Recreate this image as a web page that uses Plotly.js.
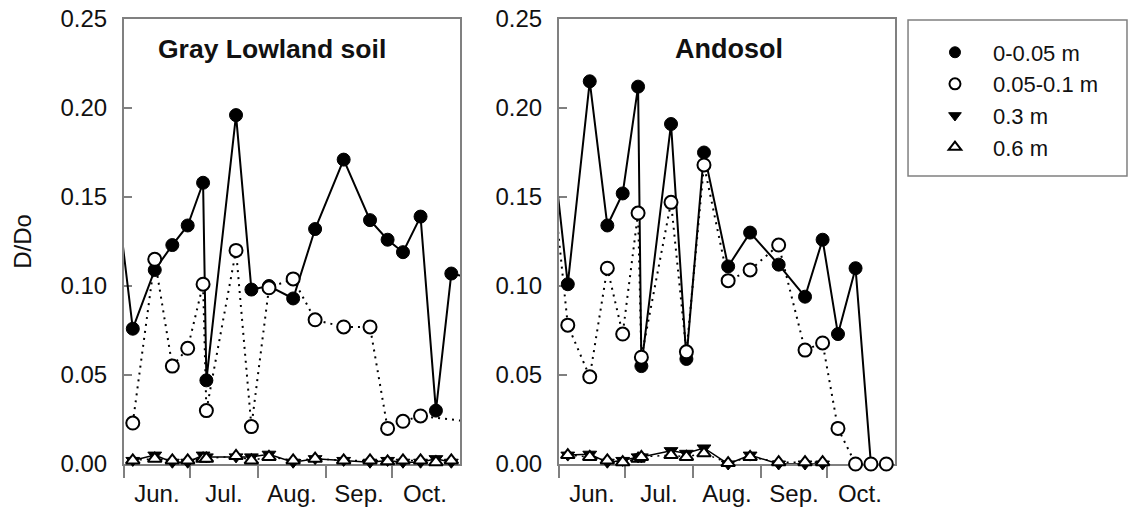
<!DOCTYPE html>
<html><head><meta charset="utf-8">
<script src="https://cdn.plot.ly/plotly-3.0.1.min.js"></script>
<style>html,body{margin:0;padding:0;background:#fff}</style>
</head><body><div id="chart" style="width:1128px;height:516px"></div>
<script>
// Sampling dates (shared by both soils); first/last entries lie just outside the axis range
const dates = ['2000-05-30','2000-06-05','2000-06-15','2000-06-23','2000-06-30','2000-07-07','2000-07-08 12:00',
  '2000-07-22','2000-07-29','2000-08-06','2000-08-17','2000-08-27','2000-09-09','2000-09-21','2000-09-29',
  '2000-10-06','2000-10-14','2000-10-21','2000-10-28','2000-11-04'];
const xRange = ['2000-06-01','2000-10-31 23:00'];
const seriesNames = ['0-0.05 m','0.05-0.1 m','0.3 m','0.6 m'];
const yTicks = [0, 0.05, 0.10, 0.15, 0.20, 0.25];

// Gray Lowland soil
const gl_0_005 = [0.138,0.076,0.109,0.123,0.134,0.158,0.047,0.196,0.098,0.100,0.093,0.132,0.171,0.137,0.126,0.119,0.139,0.030,0.107,0.105];
const gl_005_01 = [null,0.023,0.115,0.055,0.065,0.101,0.030,0.120,0.021,0.099,0.104,0.081,0.077,0.077,0.020,0.024,0.027,null,null,0.024];
const gl_03 = [null,0.002,0.005,0.001,0.001,0.005,0.004,0.004,0.004,0.0055,0.001,0.003,0.002,0.001,0.002,0.001,0.001,0.003,0.001,null];
const gl_06 = [null,0.002,0.003,0.002,0.002,0.003,0.003,0.0045,0.002,0.004,0.002,0.003,0.002,0.002,0.0015,0.002,0.002,0.001,0.002,null];

// Andosol
const an_0_005 = [0.168,0.101,0.215,0.134,0.152,0.212,0.055,0.191,0.059,0.175,0.111,0.130,0.112,0.094,0.126,0.073,0.110,0.000,null,null];
const an_005_01 = [0.150,0.078,0.049,0.110,0.073,0.141,0.060,0.147,0.063,0.168,0.103,0.109,0.123,0.064,0.068,0.020,0.000,0.000,0.000,null];
const an_03 = [null,0.005,0.0055,0.001,0.002,0.004,0.004,0.0075,0.006,0.009,0.000,0.005,0.000,0.000,0.000,null,null,null,null,null];
const an_06 = [null,0.005,0.004,0.002,0.001,0.003,0.004,0.005,0.004,0.006,0.0005,0.004,0.001,0.001,0.001,null,null,null,null,null];

const FONT = 'Liberation Sans, Arial, sans-serif';
const AX = '#808080';

function inRange(d){ return d >= xRange[0] && d <= xRange[1]; }
function sizes(s){ return dates.map(d => inRange(d) ? s : 0); }

const styles = [
  {line:{color:'#000',width:2}, marker:{symbol:'circle',color:'#000',size:13,opacity:1,line:{color:'#000',width:1}}},
  {line:{color:'#000',width:2,dash:'2px,5px'}, marker:{symbol:'circle',color:'#fff',size:13,opacity:1,line:{color:'#000',width:2}}},
  {line:{color:'#000',width:1.5}, marker:{symbol:'triangle-down',color:'#000',size:12,opacity:1,line:{color:'#000',width:1}}},
  {line:{color:'#000',width:1.5,dash:'2px,5px'}, marker:{symbol:'triangle-up',color:'#fff',size:12,opacity:1,line:{color:'#000',width:2}}}
];

function makeTraces(seriesList, xa, ya){
  return seriesList.map((vals, i) => ({
    x: dates, y: vals, xaxis: xa, yaxis: ya, type: 'scatter', mode: 'lines+markers',
    connectgaps: true, cliponaxis: false, showlegend: false, hoverinfo: 'skip',
    line: styles[i].line,
    marker: Object.assign({}, styles[i].marker, {size: sizes(styles[i].marker.size)})
  }));
}

const traces = [].concat(
  makeTraces([gl_0_005, gl_005_01, gl_03, gl_06], 'x', 'y'),
  makeTraces([an_0_005, an_005_01, an_03, an_06], 'x2', 'y2'),
  seriesNames.map((n, i) => ({
    x: [null], y: [null], xaxis: 'x', yaxis: 'y', type: 'scatter', mode: 'markers', name: n,
    marker: Object.assign({}, styles[i].marker, {size: 11})
  }))
);

function xaxisDef(domain, anchor){
  return {
    domain: domain, anchor: anchor, type: 'date', range: xRange,
    tick0: '2000-06-01', dtick: 'M1', tickformat: '%b.', ticklabelmode: 'period',
    ticks: 'outside', ticklen: 12, tickwidth: 2, tickcolor: AX, ticklabelstandoff: -5,
    showline: true, linecolor: AX, linewidth: 2, mirror: true,
    showgrid: false, zeroline: false, layer: 'below traces',
    tickfont: {family: FONT, size: 24, color: '#111'}
  };
}
function yaxisDef(anchor, withTitle){
  const a = {
    anchor: anchor, range: [0, 0.25], tickvals: yTicks, tickformat: '.2f',
    ticks: 'inside', ticklen: 8, tickwidth: 2, tickcolor: AX, ticklabelstandoff: 10,
    showline: true, linecolor: AX, linewidth: 2, mirror: true,
    showgrid: false, zeroline: false, layer: 'below traces',
    tickfont: {family: FONT, size: 24, color: '#111'}
  };
  if (withTitle) a.title = {text: 'D/Do', font: {family: FONT, size: 24, color: '#111'}, standoff: 22};
  return a;
}

const layout = {
  width: 1128, height: 516,
  margin: {l: 124, r: 233, t: 19, b: 52},
  paper_bgcolor: '#fff', plot_bgcolor: '#fff',
  font: {family: FONT, size: 24, color: '#111'},
  xaxis: xaxisDef([0, 0.4358], 'y'),
  xaxis2: xaxisDef([0.5642, 1], 'y2'),
  yaxis: yaxisDef('x', true),
  yaxis2: yaxisDef('x2', false),
  showlegend: true,
  legend: {x: 1.0285, y: 0.972, xanchor: 'left', yanchor: 'top', bgcolor: 'rgba(0,0,0,0)',
    borderwidth: 0, itemwidth: 66, font: {family: FONT, size: 22, color: '#111'}, tracegroupgap: 0},
  shapes: [{type: 'rect', xref: 'paper', yref: 'paper', x0: 1.0169, x1: 1.3009, y0: 0.6472, y1: 0.9978,
    line: {color: AX, width: 1.5}, fillcolor: 'rgba(0,0,0,0)'}],
  annotations: [
    {text: '<b>Gray Lowland soil</b>', xref: 'x domain', yref: 'y domain', x: 0.44, y: 0.933,
     xanchor: 'center', yanchor: 'middle', showarrow: false, font: {family: FONT, size: 26.5, color: '#111'}},
    {text: '<b>Andosol</b>', xref: 'x2 domain', yref: 'y2 domain', x: 0.507, y: 0.933,
     xanchor: 'center', yanchor: 'middle', showarrow: false, font: {family: FONT, size: 27, color: '#111'}}
  ]
};

Plotly.newPlot('chart', traces, layout, {displayModeBar: false, staticPlot: true});
</script></body></html>
